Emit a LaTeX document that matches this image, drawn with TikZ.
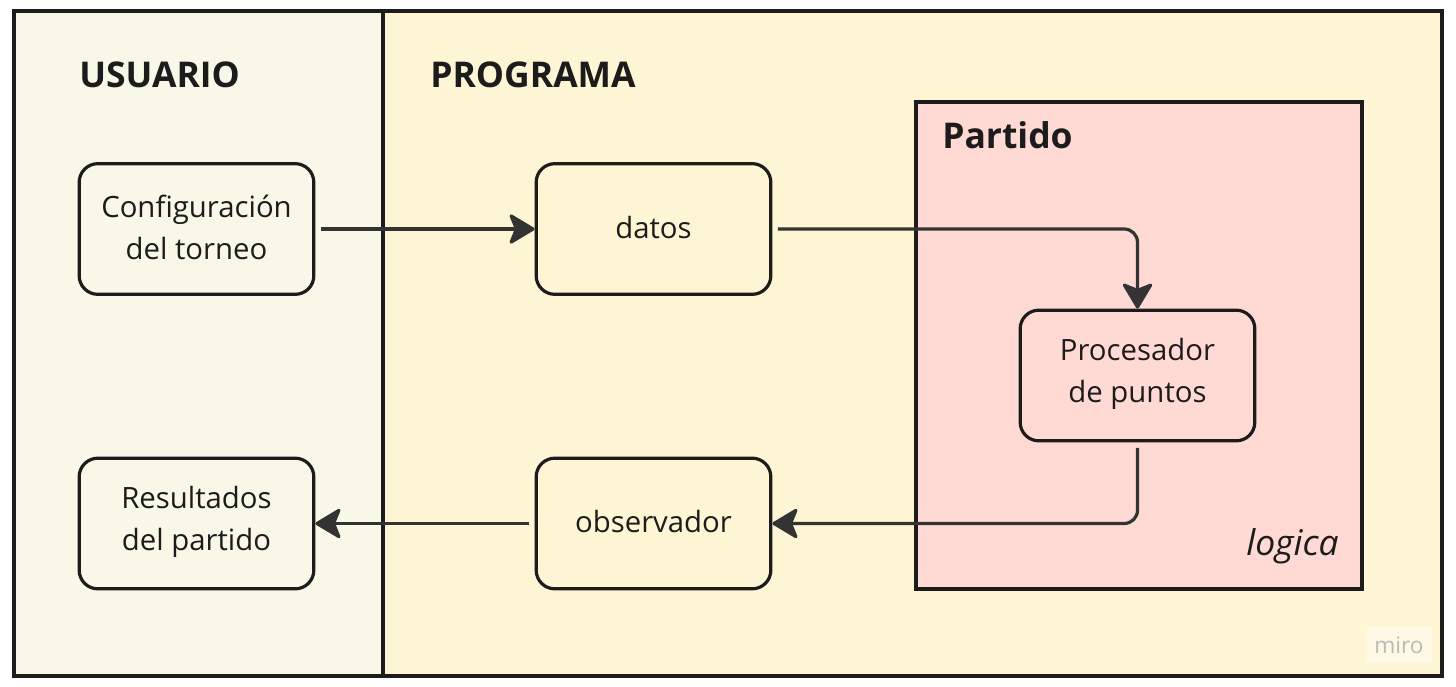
\documentclass[tikz,border=0pt]{standalone}
\usepackage{fontspec}
\setmainfont{Open Sans}
\usetikzlibrary{arrows.meta}
\definecolor{leftbg}{HTML}{F8F8E8}
\definecolor{rightbg}{HTML}{FDF5D3}
\definecolor{partbg}{HTML}{FFDAD5}
\definecolor{frame}{HTML}{1C1C1C}
\definecolor{arrowc}{HTML}{333333}
\definecolor{mirogray}{HTML}{BDB9B5}
\tikzset{
  panel/.style={draw=frame, line width=2.4pt},
  box/.style={draw=frame, line width=2.4pt, rounded corners=14pt, minimum width=176pt, minimum height=98pt, inner sep=0pt},
  boxtext/.style={align=center, inner sep=0pt, font=\fontsize{22}{31.5}\selectfont, text=frame},
  title/.style={anchor=west, inner sep=0pt, font=\fontsize{26.6}{30}\selectfont\bfseries, text=frame},
  conn/.style={draw=arrowc, line width=2.4pt, rounded corners=10pt, -{Stealth[length=21pt,width=25pt,inset=5pt,round]}}
}
\begin{document}
\begin{tikzpicture}[x=0.75pt,y=-0.75pt]
\useasboundingbox (0,0) rectangle (1456,686);
\fill[white] (0,0) rectangle (1456,686);
% panels
\fill[leftbg] (14,11) rectangle (383,676);
\fill[rightbg] (383,11) rectangle (1442,676);
\draw[panel] (14,11) rectangle (1442,676);
\draw[panel] (383,11) -- (383,676);
\draw[panel, fill=partbg] (916,102) rectangle (1362,589);
% miro mark
\fill[rightbg!60!white] (1367,627) rectangle (1432,663);
\node[inner sep=0pt, text=mirogray, font=\fontsize{17}{19}\selectfont] (miro) at (1399,645) {miro};
% titles
\node[title] (usuario) at (79,75) {USUARIO};
\node[title] (programa) at (430,75) {PROGRAMA};
\node[title] (partido) at (942,135) {Partido};
\node[anchor=east, inner sep=0pt, text=frame, font=\fontsize{26.6}{30}\selectfont\itshape] (logica) at (1339,546) {logica};
% nodes
\node[box, fill=leftbg] (config) at (196.5,229) {};
\node[box, fill=rightbg] (datos) at (653.5,229) {};
\node[box, fill=partbg] (proc) at (1137.5,375.5) {};
\node[box, fill=leftbg] (result) at (196.5,523.5) {};
\node[box, fill=rightbg] (obs) at (653.5,523.5) {};
\node[boxtext] (configtxt) at ([yshift=1.5pt]config.center) {Configuración\\del torneo};
\node[boxtext] (datostxt) at ([yshift=1.5pt]datos.center) {datos};
\node[boxtext] (proctxt) at ([yshift=1pt]proc.center) {Procesador\\de puntos};
\node[boxtext] (resulttxt) at ([yshift=1pt]result.center) {Resultados\\del partido};
\node[boxtext] (obstxt) at ([yshift=1.5pt]obs.center) {observador};
% connectors
\draw[conn, shorten <=4pt] (config.east) -- (datos.west);
\draw[conn, shorten <=4pt] (datos.east) -| (proc.north);
\draw[conn, shorten <=4pt] (proc.south) |- (obs.east);
\draw[conn, shorten <=4pt] (obs.west) -- (result.east);
\end{tikzpicture}
\end{document}
